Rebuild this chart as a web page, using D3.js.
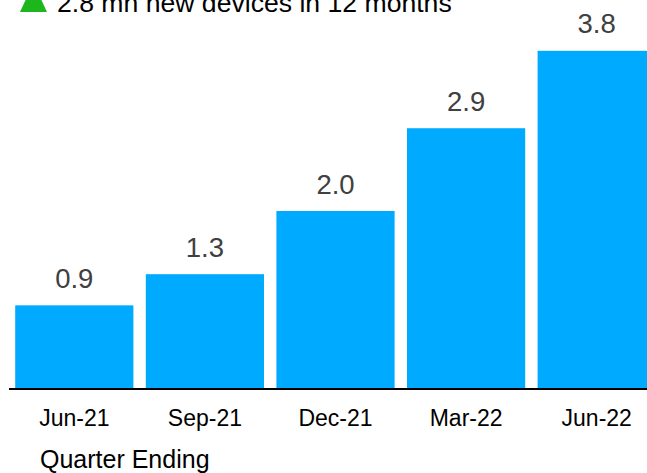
<!DOCTYPE html>
<html>
<head>
<meta charset="utf-8">
<script src="https://cdn.jsdelivr.net/npm/d3@7"></script>
<style>
    html, body { margin: 0; padding: 0; background: #ffffff; overflow: hidden; }
    svg { display: block; font-family: "Liberation Sans", Arial, sans-serif; }
</style>
</head>
<body>
<svg id="chart" width="647" height="473"></svg>
<script>
// chart data
const quarters = ['Jun-21', 'Sep-21', 'Dec-21', 'Mar-22', 'Jun-22'];
const devices  = [0.94, 1.29, 2.0, 2.93, 3.8];
const headline = '2.8 mn new devices in 12 months';
const xTitle   = 'Quarter Ending';

let svg = d3.select('#chart');

let x = d3.scaleBand()
    .domain(quarters)
    .range([9, 662])
    .paddingInner(0.095)
    .paddingOuter(0.0475);

let y = d3.scaleLinear()
    .domain([0, 4])
    .range([389, 33]);

// bars
svg.append('g')
    .selectAll('rect.bar')
    .data(quarters)
    .enter()
    .append('rect')
    .attr('class', 'bar')
    .attr('x', (d) => { return x(d); })
    .attr('y', (d, i) => { return y(devices[i]); })
    .attr('width', x.bandwidth())
    .attr('height', (d, i) => { return y(0) - y(devices[i]); })
    .attr('fill', '#00AAFF');

// value labels
svg.append('g')
    .selectAll('text.value')
    .data(quarters)
    .enter()
    .append('text')
    .attr('class', 'value')
    .attr('x', (d) => { return x(d) + x.bandwidth() / 2; })
    .attr('y', (d, i) => { return y(devices[i]) - 17.5; })
    .attr('text-anchor', 'middle')
    .attr('font-size', 27.5)
    .attr('fill', '#404040')
    .text((d, i) => { return d3.format('.1f')(devices[i]); });

// x axis
let axis = svg.append('g')
    .attr('transform', 'translate(0,' + y(0) + ')')
    .call(d3.axisBottom(x).tickSize(0).tickPadding(37));

axis.select('.domain')
    .attr('d', 'M9,0H647')
    .attr('stroke', '#000000')
    .attr('stroke-width', 2);

axis.selectAll('.tick text')
    .attr('dy', 0)
    .attr('font-family', '"Liberation Sans", Arial, sans-serif')
    .attr('font-size', 23)
    .attr('fill', '#000000');

svg.append('text')
    .attr('x', 40)
    .attr('y', 468)
    .attr('font-size', 25)
    .attr('fill', '#000000')
    .text(xTitle);

// headline with green up triangle
svg.append('path')
    .attr('d', 'M20,12L47,12L33.5,-17Z')
    .attr('fill', '#1DB71D');

svg.append('text')
    .attr('x', 57)
    .attr('y', 12)
    .attr('font-size', 26.6)
    .attr('fill', '#000000')
    .text(headline);
</script>
</body>
</html>
